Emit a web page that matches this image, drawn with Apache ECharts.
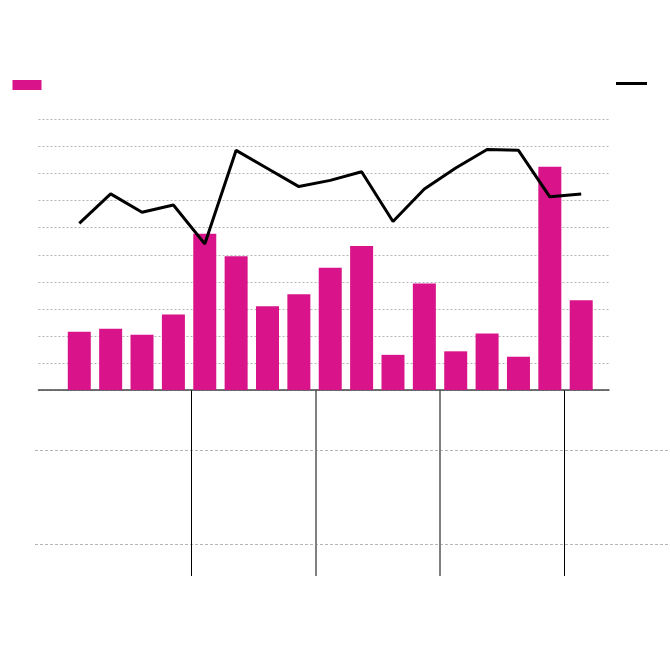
<!DOCTYPE html>
<html>
<head>
<meta charset="utf-8">
<script src="https://cdn.jsdelivr.net/npm/echarts@6/dist/echarts.min.js"></script>
<style>
  html, body { margin: 0; padding: 0; background: #fff; }
  #chart { width: 670px; height: 652px; }
</style>
</head>
<body>
<div id="chart"></div>
<script>
// Quarters (four per year), year separators every four bars
const categories = ['Q1','Q2','Q3','Q4','Q1','Q2','Q3','Q4','Q1','Q2','Q3','Q4','Q1','Q2','Q3','Q4','Q1'];
const barName = 'Bars';
const lineName = 'Line';
const barValues = [21.5, 22.6, 20.4, 27.9, 57.8, 49.4, 31.0, 35.4, 45.2, 53.2, 13.0, 39.4, 14.3, 20.9, 12.3, 82.5, 33.2];
const lineValues = [61.6, 72.5, 65.7, 68.4, 54.0, 88.6, 81.9, 75.2, 77.5, 80.7, 62.3, 74.3, 82.1, 88.9, 88.6, 71.4, 72.5];

const chart = echarts.init(document.getElementById('chart'), null, { renderer: 'canvas' });

const dashed = { color: '#b4b4b4', width: 1, type: [2, 2] };

const option = {
  animation: false,
  backgroundColor: '#fff',
  legend: [
    {
      data: [barName],
      left: 12.5, top: 80, padding: 0,
      itemWidth: 29, itemHeight: 10,
      icon: 'rect',
      formatter: () => '',
      textStyle: { fontSize: 10, lineHeight: 10 },
      selectedMode: false
    },
    {
      data: [{ name: lineName, icon: 'rect' }],
      left: 616, top: 82, padding: 0,
      itemWidth: 31, itemHeight: 3,
      formatter: () => '',
      textStyle: { fontSize: 3, lineHeight: 3 },
      selectedMode: false
    }
  ],
  grid: [
    { left: 38.5, right: 61, top: 119.5, bottom: 262 },
    { left: 35, right: 0, top: 450.5, bottom: 107.5 },
    { left: 191.5, right: 105.5, top: 390, bottom: 76 },
    { left: 316, right: 230, top: 390, bottom: 76 }
  ],
  xAxis: [
    {
      gridIndex: 0, type: 'value', min: -1.3, max: 16.886,
      axisLine: { show: true, onZero: false, lineStyle: { color: '#444', width: 1.5 } },
      axisTick: { show: false }, axisLabel: { show: false }, splitLine: { show: false }
    },
    {
      gridIndex: 1, type: 'value', min: 0, max: 1,
      axisLine: { show: false }, axisTick: { show: false }, axisLabel: { show: false }, splitLine: { show: false }
    },
    {
      gridIndex: 2, type: 'value', min: 0, max: 3, interval: 3,
      axisLine: { show: false }, axisTick: { show: false }, axisLabel: { show: false },
      splitLine: { show: true, lineStyle: { color: '#000', width: 1 } }
    },
    {
      gridIndex: 3, type: 'value', min: 0, max: 1, interval: 1,
      axisLine: { show: false }, axisTick: { show: false }, axisLabel: { show: false },
      splitLine: { show: true, lineStyle: { color: '#808080', width: 2 } }
    }
  ],
  yAxis: [
    {
      gridIndex: 0, type: 'value', min: 0, max: 100, interval: 10,
      axisLine: { show: false }, axisTick: { show: false }, axisLabel: { show: false },
      splitLine: { show: true, lineStyle: dashed }
    },
    {
      gridIndex: 1, type: 'value', min: 0, max: 1, interval: 1,
      axisLine: { show: false }, axisTick: { show: false }, axisLabel: { show: false },
      splitLine: { show: true, lineStyle: { color: '#b4b4b4', width: 1, type: [3, 2] } }
    },
    {
      gridIndex: 2, type: 'value', min: 0, max: 1,
      axisLine: { show: false }, axisTick: { show: false }, axisLabel: { show: false }, splitLine: { show: false }
    },
    {
      gridIndex: 3, type: 'value', min: 0, max: 1,
      axisLine: { show: false }, axisTick: { show: false }, axisLabel: { show: false }, splitLine: { show: false }
    }
  ],
  series: [
    {
      name: barName,
      type: 'bar',
      xAxisIndex: 0, yAxisIndex: 0,
      barWidth: 23,
      itemStyle: { color: '#d9138a' },
      data: barValues.map((v, i) => [i, v])
    },
    {
      name: lineName,
      type: 'line',
      xAxisIndex: 0, yAxisIndex: 0,
      symbol: 'none',
      itemStyle: { color: '#000' },
      lineStyle: { color: '#000', width: 3 },
      data: lineValues.map((v, i) => [i, v])
    }
  ]
};

chart.setOption(option);
</script>
</body>
</html>
